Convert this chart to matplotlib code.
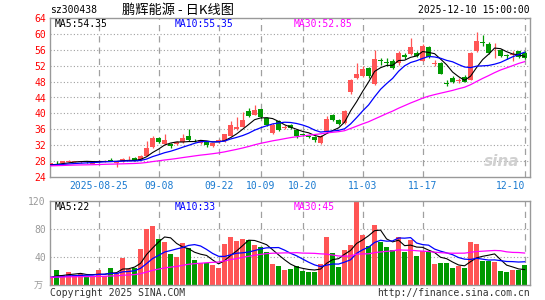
import numpy as np
import pandas as pd
import matplotlib
matplotlib.use('Agg')
import matplotlib.pyplot as plt

plt.rcParams['font.family'] = ['DejaVu Sans Mono', 'Noto Sans CJK SC']

# daily k-line, 80 trading days (2025-08-13 .. 2025-12-10)
opens = [27.1, 27.55, 27.6, 27.8, 27.8, 27.8, 28.0, 27.3, 27.8, 27.9,
         28.2, 27.6, 28.0, 28.3, 28.8, 28.4, 29.3, 31.6, 33.8, 32.3,
         32.2, 32.2, 32.7, 34.3, 33.3, 32.5, 32.7, 31.7, 32.8, 33.0,
         34.3, 36.0, 36.7, 40.7, 39.7, 41.0, 38.8, 35.0, 38.2, 36.4,
         37.0, 35.8, 34.8, 34.3, 34.0, 32.6, 35.2, 39.6, 38.3, 37.6,
         45.5, 49.0, 49.5, 51.3, 47.4, 53.4, 53.0, 53.3, 52.6, 54.8,
         55.0, 55.2, 53.3, 56.8, 52.4, 52.7, 47.6, 49.0, 48.2, 49.2,
         48.5, 55.7, 57.9, 57.4, 55.6, 55.9, 54.6, 54.6, 55.6, 55.1]
highs = [27.5, 28.0, 28.0, 28.2, 28.1, 28.1, 28.1, 27.8, 28.2, 28.3,
         28.9, 28.0, 28.9, 29.2, 29.0, 29.5, 33.0, 34.3, 34.0, 34.8,
         32.5, 33.0, 34.7, 36.0, 33.6, 33.3, 33.0, 32.6, 33.5, 34.8,
         38.0, 39.0, 40.3, 41.3, 42.2, 41.2, 39.0, 37.5, 38.4, 37.0,
         37.3, 36.0, 35.0, 34.5, 34.2, 34.5, 39.3, 39.8, 38.5, 40.8,
         48.6, 52.8, 52.0, 51.6, 56.0, 54.0, 54.0, 53.6, 55.6, 55.3,
         59.0, 55.6, 57.5, 57.0, 53.5, 53.0, 48.5, 49.5, 48.8, 49.6,
         55.4, 60.5, 59.6, 58.0, 57.6, 56.1, 55.0, 55.6, 55.8, 55.6]
lows = [27.0, 27.0, 27.5, 27.7, 27.7, 27.6, 27.6, 27.2, 27.7, 27.8,
        27.9, 26.5, 27.8, 28.1, 28.0, 28.3, 29.2, 31.3, 32.5, 32.0,
        31.4, 32.0, 32.5, 33.0, 32.9, 32.3, 31.6, 31.5, 32.6, 32.9,
        34.2, 35.8, 36.5, 39.0, 39.5, 38.8, 36.8, 34.7, 35.5, 36.0,
        36.0, 33.8, 34.3, 33.9, 32.9, 32.3, 35.0, 38.0, 37.2, 37.3,
        44.9, 48.7, 49.2, 49.0, 47.2, 52.3, 51.9, 51.2, 52.3, 53.8,
        54.8, 54.2, 53.2, 54.0, 52.0, 49.8, 46.8, 47.6, 47.7, 47.9,
        48.3, 55.5, 57.0, 55.0, 54.0, 54.3, 53.6, 53.2, 54.0, 53.6]
closes = [27.4, 27.45, 27.9, 28.0, 28.0, 28.0, 27.8, 27.6, 28.0, 28.1,
          28.0, 27.9, 28.5, 28.4, 28.1, 29.2, 31.3, 33.8, 32.7, 33.2,
          31.7, 32.7, 33.7, 33.3, 33.2, 33.2, 32.0, 32.5, 33.3, 34.7,
          37.0, 36.7, 38.3, 39.3, 40.8, 39.2, 37.0, 37.2, 35.7, 36.6,
          36.3, 34.2, 34.5, 34.0, 33.3, 34.3, 38.5, 38.3, 37.4, 40.5,
          48.5, 50.0, 51.2, 49.3, 53.8, 53.2, 52.8, 51.4, 55.3, 54.2,
          56.8, 54.5, 57.0, 54.2, 52.6, 50.0, 47.4, 47.8, 48.4, 48.0,
          55.3, 58.2, 57.7, 55.2, 55.8, 54.5, 54.4, 54.9, 54.1, 53.85]
volumes = [11, 21, 14, 18, 14, 16, 13, 13, 21, 13,
           24, 17, 39, 23, 25, 51, 80, 85, 66, 61,
           45, 40, 60, 53, 36, 31, 31, 28, 25, 59,
           68, 63, 66, 64, 57, 54, 47, 30, 27, 22,
           23, 27, 20, 19, 18, 30, 68, 46, 26, 50,
           57, 118, 71, 56, 86, 61, 55, 50, 68, 47,
           65, 41, 48, 48, 30, 31, 31, 24, 27, 24,
           61, 58, 35, 35, 33, 20, 19, 22, 21, 28]

# days before the window, only needed for the moving averages
prev_closes = [26.3, 26.5, 26.2, 26.6, 26.9, 27.1, 26.8, 26.5, 26.4, 26.7,
               26.9, 27.2, 27.0, 26.8, 26.6, 26.5, 26.9, 27.1, 26.8, 26.6,
               26.7, 26.9, 27.0, 26.8, 27.1, 27.0, 26.9, 27.1, 27.0]
prev_volumes = [10, 12, 9, 11, 13, 10, 12, 11, 9, 10, 12, 14, 11, 10, 9,
                12, 11, 13, 10, 11, 12, 10, 9, 11, 12, 10, 11, 12, 10]

tick_pos = [8, 18, 28, 35, 42, 52, 62, 79]
tick_labels = ['2025-08-25', '09-08', '09-22', '10-09', '10-20', '11-03', '11-17', '12-10']
price_ticks = [24, 28, 32, 36, 40, 44, 48, 52, 56, 60, 64]
vol_ticks = [40, 80, 120]

RED = '#ff5555'
GREEN = '#009900'
GRID = '#a0a0a0'
FRAME = '#999999'

W, H = 545, 300


def fx(px):
    return px / W


def fy(py):
    return 1 - py / H


def moving_avg(prev, vals, n):
    s = pd.Series(list(prev) + list(vals))
    return s.rolling(n).mean().values[len(prev):]


n = len(closes)
x = np.arange(n)
o = np.array(opens)
c = np.array(closes)
up = c >= o
colors = [RED if u else GREEN for u in up]

fig = plt.figure(figsize=(W / 100, H / 100), dpi=100)
ax = fig.add_axes([fx(50), fy(177), fx(480), 159 / H])
axv = fig.add_axes([fx(50), fy(285), fx(480), 84 / H])

for a in (ax, axv):
    a.set_xlim(-0.1, 79.9)
    for sp in a.spines.values():
        sp.set_color(FRAME)
        sp.set_linewidth(1)
    for p in tick_pos:
        a.axvline(p, color=GRID, lw=0.9, ls=(0, (5, 4)), zorder=0)
    a.tick_params(length=0)

# price panel
ax.set_ylim(24, 64)
for t in price_ticks[1:-1]:
    ax.axhline(t, color=GRID, lw=0.8, ls=(0, (1, 2)), zorder=0)
ax.vlines(x, lows, highs, colors=colors, lw=0.9, zorder=2)
body = np.maximum(np.abs(c - o), 0.1)
ax.bar(x, body, bottom=np.minimum(o, c), width=0.72, color=colors, lw=0, zorder=3)
ax.plot(x, moving_avg(prev_closes, closes, 5), color='black', lw=0.8, zorder=4)
ax.plot(x, moving_avg(prev_closes, closes, 10), color='#0000ff', lw=0.9, zorder=4)
ax.plot(x, moving_avg(prev_closes, closes, 30), color='#ff00ff', lw=0.9, zorder=4)
ax.set_yticks(price_ticks)
ax.set_yticklabels([str(t) for t in price_ticks], color='red', fontsize=7)
ax.set_xticks([])
ax.tick_params(axis='y', pad=3)
# date labels; the last one is pulled inside the frame
for i, (p, lab) in enumerate(zip(tick_pos, tick_labels)):
    last = i == len(tick_pos) - 1
    ax.text(p + (0.15 if last else 0), -0.055, lab, transform=ax.get_xaxis_transform(),
            ha='right' if last else 'center', va='center', fontsize=7, color='#1a7ad0')
ax.text(0.94, 0.1, 'sina', transform=ax.transAxes, ha='center', va='center',
        fontsize=11, color='#d0d0d0', style='italic', weight='bold', family='DejaVu Sans')

# volume panel
axv.set_ylim(0, 120)
for t in vol_ticks[:-1]:
    axv.axhline(t, color=GRID, lw=0.8, ls=(0, (1, 2)), zorder=0)
axv.bar(x, volumes, width=0.82, color=colors, lw=0, zorder=2)
axv.plot(x, moving_avg(prev_volumes, volumes, 5), color='black', lw=0.8, zorder=3)
axv.plot(x, moving_avg(prev_volumes, volumes, 10), color='#0000ff', lw=0.9, zorder=3)
axv.plot(x, moving_avg(prev_volumes, volumes, 30), color='#ff00ff', lw=0.9, zorder=3)
axv.set_yticks(vol_ticks)
axv.set_yticklabels([str(t) for t in vol_ticks], color=FRAME, fontsize=7)
axv.tick_params(axis='y', pad=3)
axv.set_xticks([])

# texts
fig.text(fx(50), fy(10), 'sz300438', fontsize=7, va='center', ha='left')
fig.text(fx(178), fy(10), '鹏辉能源 - 日K线图', fontsize=9.5, va='center', ha='center',
         family=['Noto Sans CJK SC', 'DejaVu Sans'])
fig.text(fx(530), fy(10), '2025-12-10 15:00:00', fontsize=7, va='center', ha='right')

fig.text(fx(55), fy(24), 'MA5:54.35', fontsize=7, va='center', color='black')
fig.text(fx(175), fy(24), 'MA10:55.35', fontsize=7, va='center', color='#0000ff')
fig.text(fx(294), fy(24), 'MA30:52.85', fontsize=7, va='center', color='#ff00ff')
fig.text(fx(55), fy(207), 'MA5:22', fontsize=7, va='center', color='black')
fig.text(fx(175), fy(207), 'MA10:33', fontsize=7, va='center', color='#0000ff')
fig.text(fx(294), fy(207), 'MA30:45', fontsize=7, va='center', color='#ff00ff')

fig.text(fx(38), fy(286), '万', fontsize=6.5, va='center', ha='center', color=FRAME,
         family=['Noto Sans CJK SC', 'DejaVu Sans'])
fig.text(fx(50), fy(293), 'Copyright 2025 SINA.COM', fontsize=7, va='center', color='#333333')
fig.text(fx(530), fy(293), 'http://finance.sina.com.cn', fontsize=7, va='center', ha='right',
         color='#333333')

fig.savefig('out.png', dpi=100)
